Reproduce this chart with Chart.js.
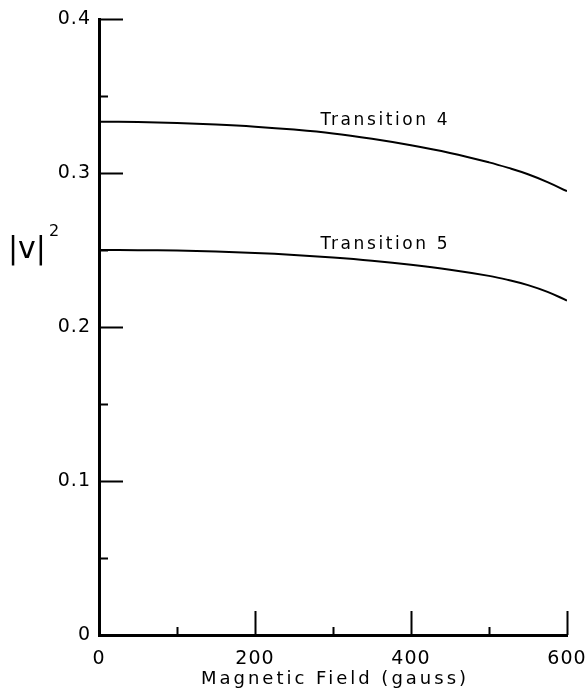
<!DOCTYPE html>
<html>
<head>
<meta charset="utf-8">
<script src="https://cdn.jsdelivr.net/npm/chart.js@4.4.1/dist/chart.umd.min.js"></script>
<style>
  html, body { margin: 0; padding: 0; background: #fff; }
  #wrap { width: 587px; height: 689px; }
</style>
</head>
<body>
<div id="wrap"><canvas id="fieldChart" width="587" height="689"></canvas></div>
<script>
// campo magnetico (gauss) e |v|^2
const gauss = [0, 50, 100, 150, 200, 250, 300, 350, 400, 450, 500, 525, 550, 575, 600];
const transicao4 = [0.3333, 0.3331, 0.3325, 0.3315, 0.3301, 0.3282, 0.3257, 0.3222, 0.3180, 0.3130, 0.3069, 0.3033, 0.2992, 0.2941, 0.2882];
const transicao5 = [0.2500, 0.2499, 0.2496, 0.2490, 0.2481, 0.2468, 0.2451, 0.2430, 0.2404, 0.2372, 0.2332, 0.2305, 0.2272, 0.2228, 0.2172];

const rotulos = ['Transition 4', 'Transition 5'];
const posRotulos = [[284, 0.3312], [284, 0.2506]];

const yMaiores = [0.1, 0.2, 0.3, 0.4];
const yMenores = [0.05, 0.15, 0.25, 0.35];
const xMaiores = [200, 400, 600];
const xMenores = [100, 300, 500];

const tituloX = 'Magnetic Field (gauss)';
const tituloY = '|v|';

const fonte = '"DejaVu Sans", sans-serif';

function pontos(valores) {
    return gauss.map((g, i) => ({ x: g, y: valores[i] }));
}

const espacamento = {
    id: 'espacamento',
    beforeUpdate(chart) { chart.ctx.letterSpacing = '1px'; },
    beforeLayout(chart) { chart.ctx.letterSpacing = '1px'; },
    beforeDraw(chart) { chart.ctx.letterSpacing = '1px'; }
};

const marcasInternas = {
    id: 'marcasInternas',
    afterDraw(chart) {
        const ctx = chart.ctx;
        const x = chart.scales.x;
        const y = chart.scales.y;
        const area = chart.chartArea;
        const esq = area.left;
        const base = area.bottom;
        ctx.save();
        ctx.strokeStyle = '#000';
        ctx.lineWidth = 2;
        ctx.beginPath();
        yMaiores.forEach(v => {
            const py = Math.round(y.getPixelForValue(v)) + 0.5;
            ctx.moveTo(esq, py);
            ctx.lineTo(esq + 24, py);
        });
        yMenores.forEach(v => {
            const py = Math.round(y.getPixelForValue(v)) + 0.5;
            ctx.moveTo(esq, py);
            ctx.lineTo(esq + 9, py);
        });
        xMaiores.forEach(v => {
            const px = Math.round(x.getPixelForValue(v)) + 0.5;
            ctx.moveTo(px, base);
            ctx.lineTo(px, base - 24);
        });
        xMenores.forEach(v => {
            const px = Math.round(x.getPixelForValue(v)) + 0.5;
            ctx.moveTo(px, base);
            ctx.lineTo(px, base - 8);
        });
        ctx.stroke();

        // rotulos das curvas
        ctx.fillStyle = '#000';
        ctx.font = '17px ' + fonte;
        ctx.letterSpacing = '2.6px';
        ctx.textAlign = 'left';
        ctx.textBaseline = 'alphabetic';
        rotulos.forEach((r, i) => {
            ctx.fillText(r, x.getPixelForValue(posRotulos[i][0]), y.getPixelForValue(posRotulos[i][1]));
        });

        // titulo do eixo x
        ctx.font = '18px ' + fonte;
        ctx.letterSpacing = '3px';
        ctx.textAlign = 'center';
        ctx.fillText(tituloX, (area.left + area.right) / 2 + 2, 684);

        // titulo do eixo y
        ctx.letterSpacing = '0px';
        ctx.textAlign = 'left';
        ctx.font = '30px ' + fonte;
        const py = y.getPixelForValue(0.2525) + 12;
        ctx.fillText(tituloY, 8, py);
        const w = ctx.measureText(tituloY).width;
        ctx.font = '16px ' + fonte;
        ctx.fillText('2', 8 + w + 3, py - 22);
        ctx.restore();
    }
};

const ctx = document.getElementById('fieldChart').getContext('2d');
new Chart(ctx, {
    type: 'line',
    data: {
        datasets: [{
            label: rotulos[0],
            data: pontos(transicao4),
            borderColor: '#000',
            borderWidth: 2,
            pointRadius: 0,
            tension: 0.4,
            fill: false
        }, {
            label: rotulos[1],
            data: pontos(transicao5),
            borderColor: '#000',
            borderWidth: 2,
            pointRadius: 0,
            tension: 0.4,
            fill: false
        }]
    },
    options: {
        responsive: false,
        animation: false,
        events: [],
        layout: { padding: { top: 19, right: 20, bottom: 0, left: 0 } },
        plugins: {
            legend: { display: false },
            tooltip: { enabled: false }
        },
        scales: {
            x: {
                type: 'linear',
                min: 0,
                max: 600,
                afterFit(scale) {
                    scale.height = 54;
                    scale.paddingLeft = 0;
                    scale.paddingRight = 0;
                },
                grid: { display: false, drawTicks: false },
                border: { display: true, color: '#000', width: 3 },
                ticks: {
                    stepSize: 200,
                    padding: 13,
                    color: '#000',
                    font: { family: fonte, size: 19 },
                    maxRotation: 0
                }
            },
            y: {
                min: 0,
                max: 0.4,
                afterFit(scale) {
                    scale.width = 99;
                    scale.paddingTop = 0;
                    scale.paddingBottom = 0;
                },
                grid: { display: false, drawTicks: false },
                border: { display: true, color: '#000', width: 3 },
                ticks: {
                    stepSize: 0.1,
                    padding: 8,
                    color: '#000',
                    font: { family: fonte, size: 19 },
                    callback: v => v === 0 ? '0' : v.toFixed(1)
                }
            }
        }
    },
    plugins: [espacamento, marcasInternas]
});
</script>
</body>
</html>
